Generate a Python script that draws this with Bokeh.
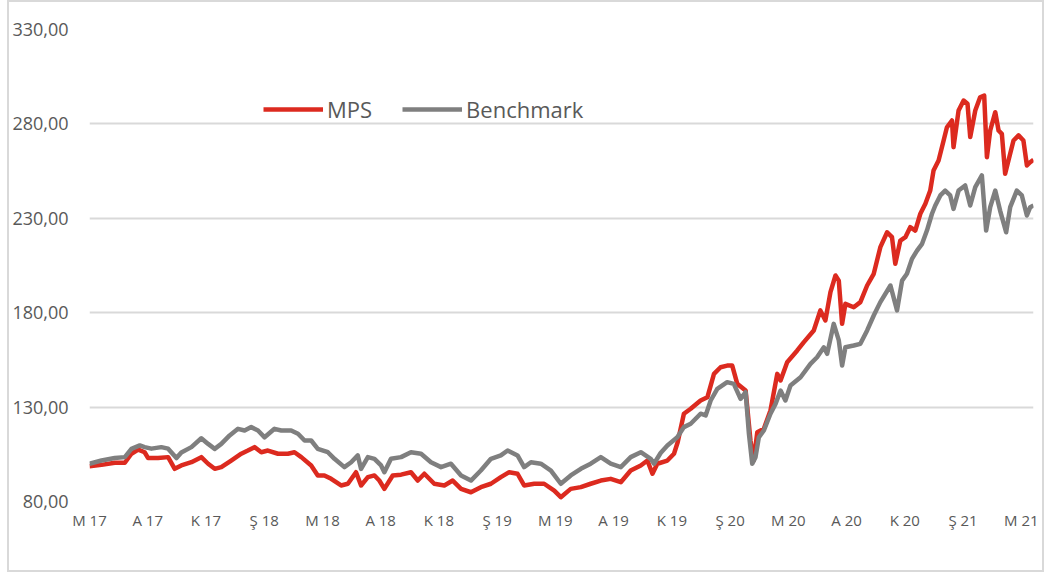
from bokeh.plotting import figure
from bokeh.models import Range1d, FixedTicker, Legend, LegendItem
from bokeh.embed import file_html
from bokeh.resources import INLINE

# x: months since May 2017 (M 17)
tick_labels = ["M 17", "A 17", "K 17", "Ş 18", "M 18", "A 18", "K 18", "Ş 19",
               "M 19", "A 19", "K 19", "Ş 20", "M 20", "A 20", "K 20", "Ş 21", "M 21"]
tick_months = [0, 3, 6, 9, 12, 15, 18, 21, 24, 27, 30, 33, 36, 39, 42, 45, 48]
y_ticks = [80, 130, 180, 230, 280, 330]
y_tick_labels = ["80,00", "130,00", "180,00", "230,00", "280,00", "330,00"]

mps_t = [0.0, 0.62, 1.30, 1.82, 2.16, 2.51, 2.84, 3.02, 3.53, 4.05, 4.39, 4.73, 5.25, 5.76,
         6.11, 6.45, 6.79, 7.30, 7.82, 8.16, 8.50, 8.85, 9.19, 9.71, 10.22, 10.56, 10.91,
         11.42, 11.76, 12.10, 12.45, 12.96, 13.31, 13.73, 13.99, 14.34, 14.68, 14.93, 15.19,
         15.62, 16.05, 16.56, 16.91, 17.25, 17.76, 18.28, 18.71, 19.14, 19.65, 20.16, 20.68,
         21.19, 21.62, 22.05, 22.39, 22.91, 23.42, 23.94, 24.28, 24.79, 25.31, 25.82, 26.34,
         26.85, 27.37, 27.88, 28.40, 28.74, 29.00, 29.25, 29.77, 30.11, 30.30, 30.62, 30.97,
         31.48, 31.83, 32.17, 32.51, 32.85, 33.11, 33.37, 33.80, 34.05, 34.22, 34.40, 34.74,
         35.08, 35.43, 35.60, 35.94, 36.46, 36.80, 37.31, 37.65, 37.91, 38.17, 38.43, 38.60,
         38.77, 38.94, 39.37, 39.71, 40.06, 40.40, 40.74, 41.09, 41.34, 41.51, 41.77, 42.03,
         42.28, 42.54, 42.80, 43.06, 43.31, 43.48, 43.74, 44.00, 44.17, 44.43, 44.51, 44.77,
         45.03, 45.23, 45.37, 45.63, 45.88, 46.09, 46.23, 46.40, 46.66, 46.83, 47.00, 47.17,
         47.34, 47.60, 47.86, 48.11, 48.29, 48.46, 48.63]
mps_v = [98.7, 99.4, 100.5, 100.5, 105.3, 107.5, 106.1, 103.0, 103.0, 103.5, 97.3, 99.1,
         100.8, 103.5, 100.0, 97.3, 98.2, 101.7, 105.3, 107.0, 108.8, 106.1, 107.0, 105.3,
         105.3, 106.1, 103.5, 99.1, 93.8, 93.8, 92.0, 88.5, 89.4, 95.5, 88.5, 92.9, 93.8,
         91.1, 86.7, 93.8, 94.2, 95.5, 91.1, 94.7, 89.4, 88.5, 91.1, 86.7, 84.9, 87.6, 89.4,
         92.9, 95.5, 94.7, 88.5, 89.4, 89.4, 85.8, 82.3, 86.7, 87.6, 89.4, 91.1, 92.0, 90.2,
         96.4, 99.1, 101.7, 94.7, 100.0, 101.7, 105.3, 111.4, 126.5, 129.1, 133.5, 135.2,
         147.6, 151.1, 152.0, 152.0, 142.3, 138.8, 112.3, 101.7, 116.7, 118.5, 128.2, 147.6,
         144.1, 153.8, 160.0, 164.4, 170.6, 181.2, 175.9, 190.9, 199.7, 197.0, 174.1, 184.7,
         182.9, 185.6, 194.4, 200.6, 214.7, 222.6, 220.0, 205.9, 218.2, 220.0, 225.3, 223.5,
         232.4, 237.7, 244.7, 255.3, 260.6, 271.2, 278.2, 281.8, 267.7, 287.1, 292.4, 290.7,
         273.0, 287.1, 294.1, 295.0, 262.4, 276.5, 286.2, 276.5, 274.7, 253.6, 260.6, 271.2,
         273.9, 271.2, 258.0, 259.7, 261.0]

bm_t = [0.0, 0.62, 1.30, 1.82, 2.16, 2.59, 2.84, 3.19, 3.70, 4.05, 4.48, 4.73, 5.25, 5.76,
        6.11, 6.45, 6.79, 7.22, 7.65, 7.99, 8.33, 8.68, 9.02, 9.53, 9.88, 10.39, 10.74,
        11.08, 11.42, 11.76, 12.28, 12.62, 13.13, 13.48, 13.82, 13.99, 14.34, 14.68, 15.02,
        15.19, 15.53, 16.05, 16.56, 17.08, 17.59, 18.11, 18.62, 19.14, 19.65, 20.16, 20.68,
        21.19, 21.54, 22.05, 22.39, 22.74, 23.25, 23.77, 24.28, 24.79, 25.31, 25.82, 26.34,
        26.85, 27.37, 27.88, 28.40, 28.91, 29.08, 29.42, 29.77, 30.28, 30.62, 30.97, 31.48,
        31.74, 32.00, 32.34, 32.85, 33.19, 33.54, 33.80, 33.97, 34.14, 34.31, 34.48, 34.74,
        35.08, 35.34, 35.60, 35.85, 36.11, 36.63, 37.14, 37.48, 37.83, 38.00, 38.34, 38.60,
        38.77, 38.94, 39.37, 39.71, 40.06, 40.40, 40.74, 41.26, 41.60, 41.86, 42.11, 42.37,
        42.63, 42.89, 43.14, 43.40, 43.57, 43.83, 44.08, 44.34, 44.51, 44.77, 45.11, 45.37,
        45.63, 45.97, 46.19, 46.40, 46.66, 46.91, 47.22, 47.43, 47.77, 48.03, 48.29, 48.46,
        48.63]
bm_v = [100.0, 101.7, 103.0, 103.5, 107.9, 109.7, 108.8, 108.0, 108.8, 108.0, 103.0, 106.0,
        108.8, 113.5, 110.5, 107.9, 110.5, 115.0, 118.5, 117.6, 119.4, 117.6, 114.0, 118.5,
        117.6, 117.6, 115.9, 112.3, 112.3, 107.9, 106.1, 102.6, 98.2, 100.8, 104.4, 97.3,
        103.5, 102.6, 99.1, 95.5, 102.6, 103.5, 106.1, 105.3, 100.8, 98.2, 100.0, 93.8, 91.1,
        96.4, 102.6, 104.4, 107.0, 104.4, 98.2, 100.8, 100.0, 96.4, 89.4, 93.8, 97.3, 100.0,
        103.5, 100.0, 98.2, 103.5, 106.1, 102.6, 100.0, 105.7, 109.7, 114.0, 119.4, 121.2,
        126.5, 125.6, 133.5, 139.7, 143.2, 142.3, 134.4, 137.9, 115.9, 100.0, 103.5, 114.0,
        117.6, 126.5, 131.7, 138.8, 133.5, 141.4, 145.8, 152.9, 156.4, 161.7, 158.2, 174.1,
        165.3, 152.0, 161.7, 162.6, 163.5, 170.6, 178.5, 185.6, 194.4, 181.2, 197.0, 200.6,
        208.5, 212.9, 216.5, 223.5, 232.4, 236.8, 242.1, 244.7, 242.1, 235.0, 244.7, 247.4,
        236.8, 246.5, 252.7, 223.5, 235.9, 244.7, 234.1, 222.6, 235.9, 244.7, 242.1, 231.5,
        235.9, 236.8]

RED = "#dc2a1f"
GREY = "#7f7f7f"
TXT = "#595959"
FONT = "Open Sans"

p = figure(width=1037, height=572, output_backend="svg", toolbar_location=None,
           x_range=Range1d(0, 48.63), y_range=Range1d(80, 330),
           min_border_left=79, min_border_right=13, min_border_top=27, min_border_bottom=73)
p.styles = {"border": "2px solid #d9d9d9", "margin-left": "7px"}
p.outline_line_color = None
p.background_fill_color = "white"
p.border_fill_color = "white"

r_mps = p.line(mps_t, mps_v, line_color=RED, line_width=4.5, line_join="round")
r_bm = p.line(bm_t, bm_v, line_color=GREY, line_width=4.5, line_join="round")

p.xgrid.visible = False
p.ygrid.ticker = FixedTicker(ticks=y_ticks)
p.ygrid.grid_line_color = "#d9d9d9"
p.ygrid.grid_line_width = 2

xa = p.xaxis[0]
xa.ticker = FixedTicker(ticks=tick_months)
xa.major_label_overrides = dict(zip(tick_months, tick_labels))
xa.axis_line_color = None
xa.major_tick_line_color = None
xa.minor_tick_line_color = None
xa.major_tick_out = 0
xa.major_label_standoff = 8
xa.major_label_text_font = FONT
xa.major_label_text_font_size = "15px"
xa.major_label_text_color = TXT

ya = p.yaxis[0]
ya.ticker = FixedTicker(ticks=y_ticks)
ya.major_label_overrides = dict(zip(y_ticks, y_tick_labels))
ya.axis_line_color = None
ya.major_tick_line_color = None
ya.minor_tick_line_color = None
ya.major_tick_out = 0
ya.major_label_standoff = 21
ya.major_label_text_font = FONT
ya.major_label_text_font_size = "18px"
ya.major_label_text_color = TXT

legend = Legend(items=[LegendItem(label="MPS", renderers=[r_mps]),
                       LegendItem(label="Benchmark", renderers=[r_bm])],
                orientation="horizontal", location=(174, 377))
legend.padding = 0
legend.margin = 0
legend.spacing = 30
legend.glyph_width = 60
legend.glyph_height = 26
legend.label_height = 26
legend.label_standoff = 4
legend.border_line_color = None
legend.background_fill_alpha = 0
legend.label_text_font = FONT
legend.label_text_font_size = "22px"
legend.label_text_color = TXT
p.add_layout(legend, "center")

open("out.html", "w").write(file_html(p, INLINE))
